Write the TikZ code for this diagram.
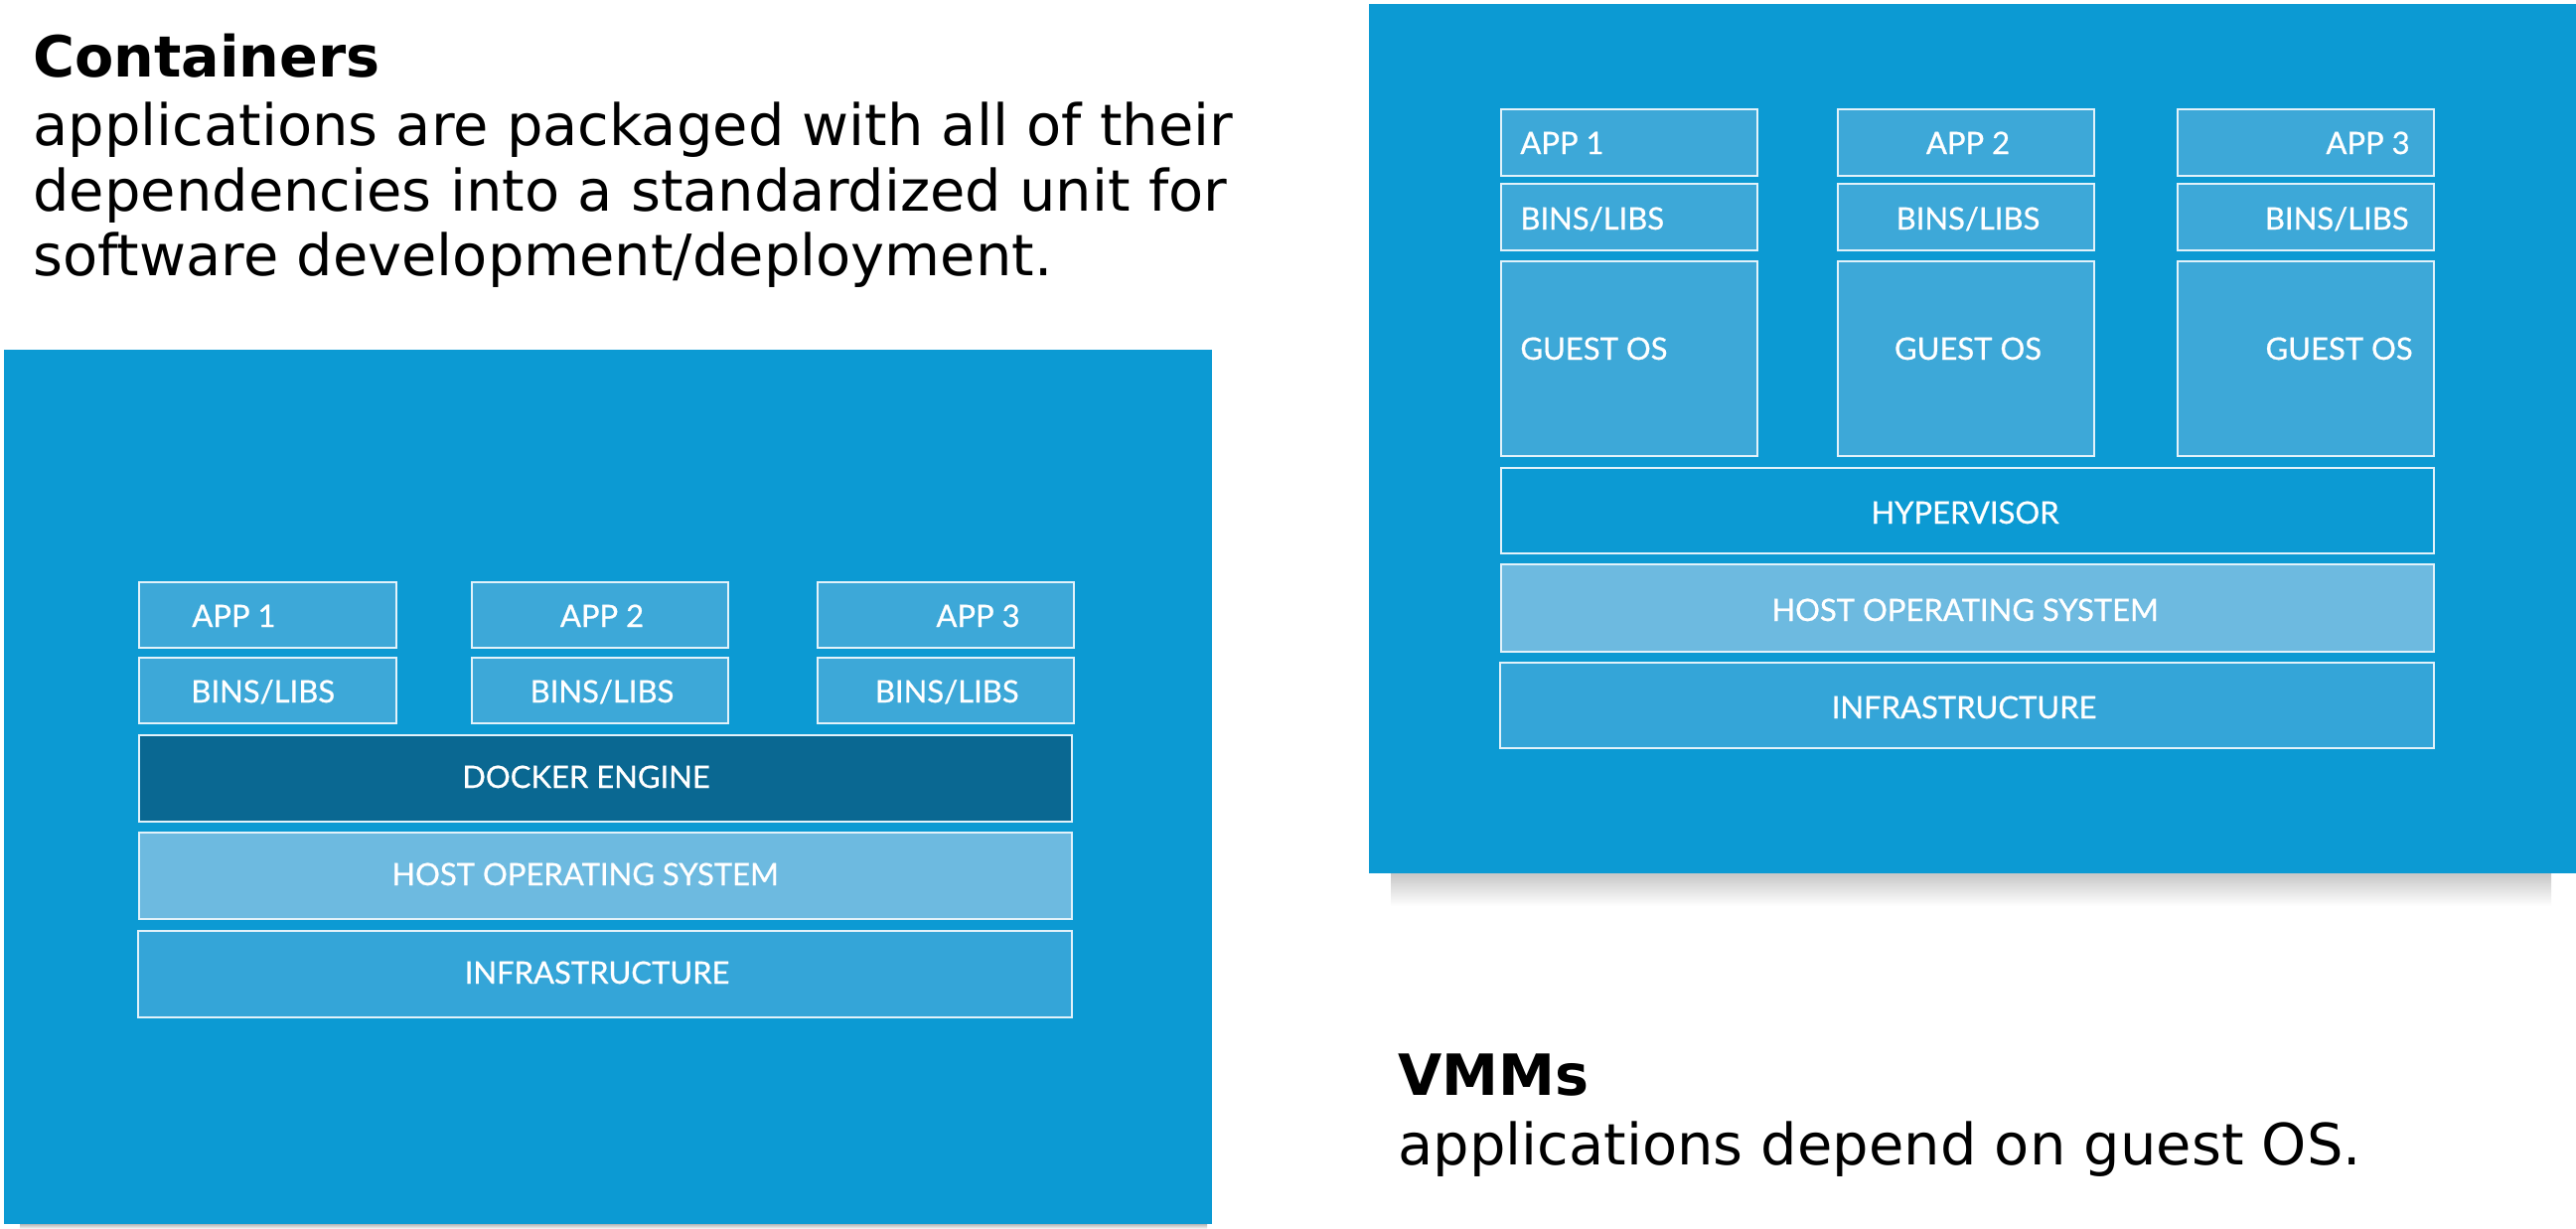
\documentclass[tikz,border=0pt]{standalone}
\usepackage{fontspec}
\setmainfont{DejaVu Sans}
\newfontfamily\boxfont[FakeBold=0.7]{Lato}
\usetikzlibrary{fit}
\definecolor{bgblue}{RGB}{12,154,211}
\definecolor{appfill}{RGB}{61,168,216}
\definecolor{dockerfill}{RGB}{10,104,146}
\definecolor{hostfill}{RGB}{109,186,224}
\definecolor{infrafill}{RGB}{52,165,216}
\definecolor{edgewhite}{RGB}{226,242,250}
\begin{document}
\begin{tikzpicture}[x=0.5pt,y=-0.5pt,
  panel/.style={fill=bgblue, draw=none, inner sep=0pt, outer sep=0pt},
  box/.style={draw=edgewhite, line width=0.8pt, inner sep=0pt, outer sep=0pt},
  lbl/.style={text=white, font=\boxfont\fontsize{15.5}{18}\selectfont, inner sep=0pt},
  ttl/.style={font=\bfseries\fontsize{28.6}{34}\selectfont, inner sep=0pt, anchor=base west},
  bodytxt/.style={font=\fontsize{28.75}{34}\selectfont, inner sep=0pt, anchor=base west}
]
\fill[white] (0,0) rectangle (2593,1237);
\useasboundingbox (0,0) rectangle (2593,1237);

% ---------- titles ----------
\node[ttl] (ctitle) at (33,77) {Containers};
\node[bodytxt] (cl1) at (33,146) {applications are packaged with all of their};
\node[bodytxt] (cl2) at (33,212) {dependencies into a standardized unit for};
\node[bodytxt] (cl3) at (33,277) {software development/deployment.};
\node[ttl] (vtitle) at (1407,1102) {VMMs};
\node[bodytxt] (vl1) at (1407,1172) {applications depend on guest OS.};

% ---------- shadows ----------
\shade[top color=black!28, bottom color=white] (20,1232) rectangle (1215,1237);
\shade[top color=black!22, bottom color=white] (1400,879) rectangle (2568,912);

% ---------- containers panel ----------
\node[panel, fit={(4,352)(1220,1232)}] (cpanel) {};
\node[box, fill=appfill, fit={(140,586)(399,652)}] (capp1) {};
\node[box, fill=appfill, fit={(475,586)(733,652)}] (capp2) {};
\node[box, fill=appfill, fit={(823,586)(1081,652)}] (capp3) {};
\node[box, fill=appfill, fit={(140,662)(399,728)}] (cbin1) {};
\node[box, fill=appfill, fit={(475,662)(733,728)}] (cbin2) {};
\node[box, fill=appfill, fit={(823,662)(1081,728)}] (cbin3) {};
\node[box, fill=dockerfill, fit={(140,740)(1079,827)}] (cdock) {};
\node[box, fill=hostfill, fit={(140,838)(1079,925)}] (chost) {};
\node[box, fill=infrafill, fit={(139,937)(1079,1024)}] (cinfra) {};

\node[lbl, anchor=base west] (tcapp1) at (193,631) {APP 1};
\node[lbl, anchor=base] (tcapp2) at (606,631) {APP 2};
\node[lbl, anchor=base east] (tcapp3) at (1027,631) {APP 3};
\node[lbl, anchor=base west] (tcbin1) at (192,707) {BINS/LIBS};
\node[lbl, anchor=base] (tcbin2) at (606,707) {BINS/LIBS};
\node[lbl, anchor=base east] (tcbin3) at (1026,707) {BINS/LIBS};
\node[lbl, anchor=base] (tcdock) at (590,793) {DOCKER ENGINE};
\node[lbl, anchor=base] (tchost) at (589,891) {HOST OPERATING SYSTEM};
\node[lbl, anchor=base] (tcinfra) at (601,990) {INFRASTRUCTURE};

% ---------- VMM panel ----------
\node[panel, fit={(1378,4)(2593,879)}] (vpanel) {};
\node[box, fill=appfill, fit={(1511,110)(1769,177)}] (vapp1) {};
\node[box, fill=appfill, fit={(1850,110)(2108,177)}] (vapp2) {};
\node[box, fill=appfill, fit={(2192,110)(2450,177)}] (vapp3) {};
\node[box, fill=appfill, fit={(1511,185)(1769,252)}] (vbin1) {};
\node[box, fill=appfill, fit={(1850,185)(2108,252)}] (vbin2) {};
\node[box, fill=appfill, fit={(2192,185)(2450,252)}] (vbin3) {};
\node[box, fill=appfill, fit={(1511,263)(1769,459)}] (vgos1) {};
\node[box, fill=appfill, fit={(1850,263)(2108,459)}] (vgos2) {};
\node[box, fill=appfill, fit={(2192,263)(2450,459)}] (vgos3) {};
\node[box, fill=bgblue, fit={(1511,471)(2450,557)}] (vhyp) {};
\node[box, fill=hostfill, fit={(1511,568)(2450,656)}] (vhost) {};
\node[box, fill=infrafill, fit={(1510,667)(2450,753)}] (vinfra) {};

\node[lbl, anchor=base west] (tvapp1) at (1530,155) {APP 1};
\node[lbl, anchor=base] (tvapp2) at (1981,155) {APP 2};
\node[lbl, anchor=base east] (tvapp3) at (2426,155) {APP 3};
\node[lbl, anchor=base west] (tvbin1) at (1530,231) {BINS/LIBS};
\node[lbl, anchor=base] (tvbin2) at (1981,231) {BINS/LIBS};
\node[lbl, anchor=base east] (tvbin3) at (2425,231) {BINS/LIBS};
\node[lbl, anchor=base west] (tvgos1) at (1530,362) {GUEST OS};
\node[lbl, anchor=base] (tvgos2) at (1981,362) {GUEST OS};
\node[lbl, anchor=base east] (tvgos3) at (2429,362) {GUEST OS};
\node[lbl, anchor=base] (tvhyp) at (1978,527) {HYPERVISOR};
\node[lbl, anchor=base] (tvhost) at (1978,625) {HOST OPERATING SYSTEM};
\node[lbl, anchor=base] (tvinfra) at (1977,723) {INFRASTRUCTURE};
\end{tikzpicture}
\end{document}
